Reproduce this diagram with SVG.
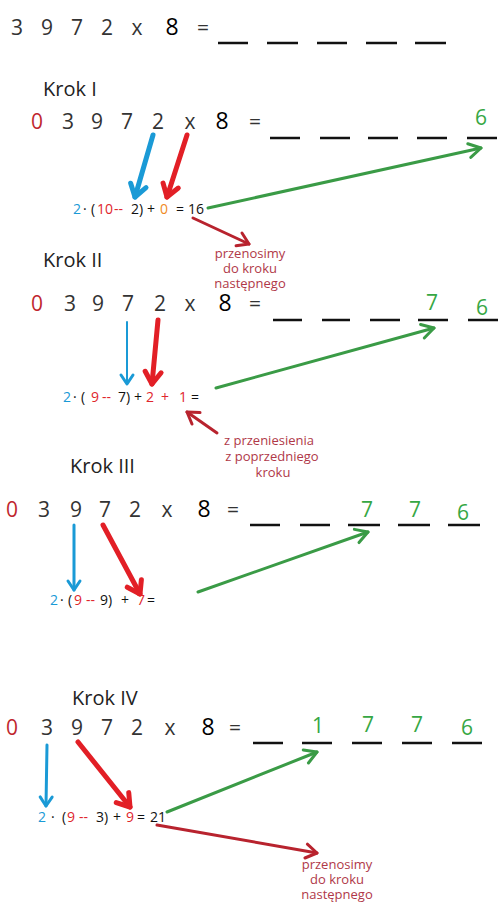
<svg xmlns="http://www.w3.org/2000/svg" width="500" height="914" viewBox="0 0 500 914">
<style>
text{font-family:"Open Sans","Noto Sans","DejaVu Sans",sans-serif}
.d{font-size:21px;fill:#333;text-anchor:middle}
.e{font-size:23px;fill:#000;text-anchor:middle}
.z{font-size:21px;fill:#c0272d;text-anchor:middle}
.g{font-size:21px;fill:#36a744;text-anchor:middle}
.t{font-size:20px;fill:#222}
.f{font-size:14px;fill:#111}
.b{fill:#1a9ad6}.r{fill:#e0262c}.o{fill:#f08a24}
.n{font-size:13px;fill:#b03848;text-anchor:middle}
.bl{stroke:#111;stroke-width:2.5}
.ab{stroke:#1a9ad6;fill:none;stroke-linecap:round}
.ar{stroke:#e21f26;fill:none;stroke-linecap:round;stroke-width:5}
.ag{stroke:#3a9b46;fill:none;stroke-linecap:round;stroke-width:3}
.ad{stroke:#b8232e;fill:none;stroke-linecap:round;stroke-width:3}
</style>
<defs>
<marker id="hB" markerUnits="userSpaceOnUse" viewBox="-16 -12 20 24" refX="0" refY="0" markerWidth="20" markerHeight="24" orient="auto"><path d="M-12,-8 L0,0 L-12,8" fill="none" stroke="#1a9ad6" stroke-width="5" stroke-linecap="round" stroke-linejoin="round"/></marker>
<marker id="hBs" markerUnits="userSpaceOnUse" viewBox="-14 -10 18 20" refX="0" refY="0" markerWidth="18" markerHeight="20" orient="auto"><path d="M-9,-6 L0,0 L-9,6" fill="none" stroke="#1a9ad6" stroke-width="3" stroke-linecap="round" stroke-linejoin="round"/></marker>
<marker id="hR" markerUnits="userSpaceOnUse" viewBox="-16 -12 20 24" refX="0" refY="0" markerWidth="20" markerHeight="24" orient="auto"><path d="M-12,-8 L0,0 L-12,8" fill="none" stroke="#e21f26" stroke-width="5" stroke-linecap="round" stroke-linejoin="round"/></marker>
<marker id="hG" markerUnits="userSpaceOnUse" viewBox="-16 -12 20 24" refX="0" refY="0" markerWidth="20" markerHeight="24" orient="auto"><path d="M-12,-7 L0,0 L-12,7" fill="none" stroke="#3a9b46" stroke-width="3" stroke-linecap="round" stroke-linejoin="round"/></marker>
<marker id="hD" markerUnits="userSpaceOnUse" viewBox="-16 -12 20 24" refX="0" refY="0" markerWidth="20" markerHeight="24" orient="auto"><path d="M-11,-7 L0,0 L-11,7" fill="none" stroke="#b8232e" stroke-width="3" stroke-linecap="round" stroke-linejoin="round"/></marker>
</defs>
<rect width="500" height="914" fill="#fff"/>

<g id="row0">
<text class="d" x="17" y="35">3</text><text class="d" x="47" y="35">9</text><text class="d" x="77" y="35">7</text><text class="d" x="107" y="35">2</text><text class="d" x="137" y="35">x</text><text class="e" x="172" y="35">8</text><text class="d" x="203" y="35">=</text>
<path class="bl" d="M218,43H248M267,43H298M317,43H347M366,43H397M415,43H446"/>
</g>

<g id="krok1">
<text class="t" x="43" y="96">Krok I</text>
<text class="z" x="37" y="129">0</text><text class="d" x="68" y="129">3</text><text class="d" x="97" y="129">9</text><text class="d" x="127" y="129">7</text><text class="d" x="158" y="129">2</text><text class="d" x="190" y="129">x</text><text class="e" x="222" y="129">8</text><text class="d" x="255" y="129">=</text>
<path class="bl" d="M270,138H300M320,138H350M368,138H398M417,138H447M467,138H497"/>
<text class="g" x="481" y="125">6</text>
<text class="f" y="214"><tspan class="b" x="73">2</tspan><tspan x="83">·</tspan><tspan x="91">(</tspan><tspan class="r" x="97">10</tspan><tspan class="r" x="114">--</tspan><tspan x="131">2)</tspan><tspan x="147">+</tspan><tspan class="o" x="160">0</tspan><tspan x="176">=</tspan><tspan x="188">16</tspan></text>
<text class="n" x="250" y="258">przenosimy</text><text class="n" x="250" y="273">do kroku</text><text class="n" x="250" y="288">następnego</text>
</g>

<g id="krok2">
<text class="t" x="43" y="267">Krok II</text>
<text class="z" x="37" y="311">0</text><text class="d" x="70" y="311">3</text><text class="d" x="98" y="311">9</text><text class="d" x="128" y="311">7</text><text class="d" x="160" y="311">2</text><text class="d" x="190" y="311">x</text><text class="e" x="225" y="311">8</text><text class="d" x="255" y="311">=</text>
<path class="bl" d="M273,320H302M322,320H350M370,320H400M418,320H448M468,320H498"/>
<text class="g" x="432" y="310">7</text><text class="g" x="482" y="315">6</text>
<text class="f" y="402"><tspan class="b" x="63">2</tspan><tspan x="73">·</tspan><tspan x="81">(</tspan><tspan class="r" x="91">9</tspan><tspan class="r" x="102">--</tspan><tspan x="118">7)</tspan><tspan x="134">+</tspan><tspan class="r" x="146">2</tspan><tspan class="r" x="161">+</tspan><tspan class="r" x="179">1</tspan><tspan x="191">=</tspan></text>
<text class="n" x="269" y="445">z przeniesienia</text><text class="n" x="272" y="461">z poprzedniego</text><text class="n" x="273" y="477">kroku</text>
</g>

<g id="krok3">
<text class="t" x="70" y="473">Krok III</text>
<text class="z" x="12" y="517">0</text><text class="d" x="44" y="517">3</text><text class="d" x="76" y="517">9</text><text class="d" x="105" y="517">7</text><text class="d" x="135" y="517">2</text><text class="d" x="167" y="517">x</text><text class="e" x="204" y="517">8</text><text class="d" x="233" y="517">=</text>
<path class="bl" d="M250,525H280M300,525H330M348,525H380M398,525H430M448,525H480"/>
<text class="g" x="367" y="517">7</text><text class="g" x="415" y="517">7</text><text class="g" x="463" y="520">6</text>
<text class="f" y="605"><tspan class="b" x="50">2</tspan><tspan x="60">·</tspan><tspan x="68">(</tspan><tspan class="r" x="74">9</tspan><tspan class="r" x="86">--</tspan><tspan x="100">9)</tspan><tspan x="121">+</tspan><tspan class="r" x="137">7</tspan><tspan x="147">=</tspan></text>
</g>

<g id="krok4">
<text class="t" x="72" y="705">Krok IV</text>
<text class="z" x="12" y="735">0</text><text class="d" x="47" y="735">3</text><text class="d" x="77" y="735">9</text><text class="d" x="107" y="735">7</text><text class="d" x="137" y="735">2</text><text class="d" x="170" y="735">x</text><text class="e" x="208" y="735">8</text><text class="d" x="235" y="735">=</text>
<path class="bl" d="M253,743H283M302,743H332M352,743H382M402,743H432M452,743H482"/>
<text class="g" x="318" y="733">1</text><text class="g" x="368" y="732">7</text><text class="g" x="417" y="732">7</text><text class="g" x="467" y="735">6</text>
<text class="f" y="822"><tspan class="b" x="38">2</tspan><tspan x="51">·</tspan><tspan x="62">(</tspan><tspan class="r" x="67">9</tspan><tspan class="r" x="79">--</tspan><tspan x="96">3)</tspan><tspan x="113">+</tspan><tspan class="r" x="126">9</tspan><tspan x="137">=</tspan><tspan x="150">21</tspan></text>
<text class="n" x="337" y="869">przenosimy</text><text class="n" x="337" y="884">do kroku</text><text class="n" x="337" y="899">następnego</text>
</g>

<g id="connectors">
<path class="ab" stroke-width="5" d="M153,135L135,197" marker-end="url(#hB)"/>
<path class="ar" d="M187,135L167,197" marker-end="url(#hR)"/>
<path class="ag" d="M208,208L481,148" marker-end="url(#hG)"/>
<path class="ad" d="M193,218L249,244" marker-end="url(#hD)"/>

<path class="ab" stroke-width="2" d="M127,322L127,384" marker-end="url(#hBs)"/>
<path class="ar" d="M158,320L152,384" marker-end="url(#hR)"/>
<path class="ag" d="M216,388L434,328" marker-end="url(#hG)"/>
<path class="ad" d="M217,433L187,412" marker-end="url(#hD)"/>

<path class="ab" stroke-width="3" d="M74,525L74,590" marker-end="url(#hBs)"/>
<path class="ar" d="M103,525L140,594" marker-end="url(#hR)"/>
<path class="ag" d="M198,592L368,532" marker-end="url(#hG)"/>

<path class="ab" stroke-width="3" d="M47,745L46,806" marker-end="url(#hBs)"/>
<path class="ar" d="M78,742L130,807" marker-end="url(#hR)"/>
<path class="ag" d="M167,812L317,752" marker-end="url(#hG)"/>
<path class="ad" d="M157,825L317,853" marker-end="url(#hD)"/>
</g>
</svg>
